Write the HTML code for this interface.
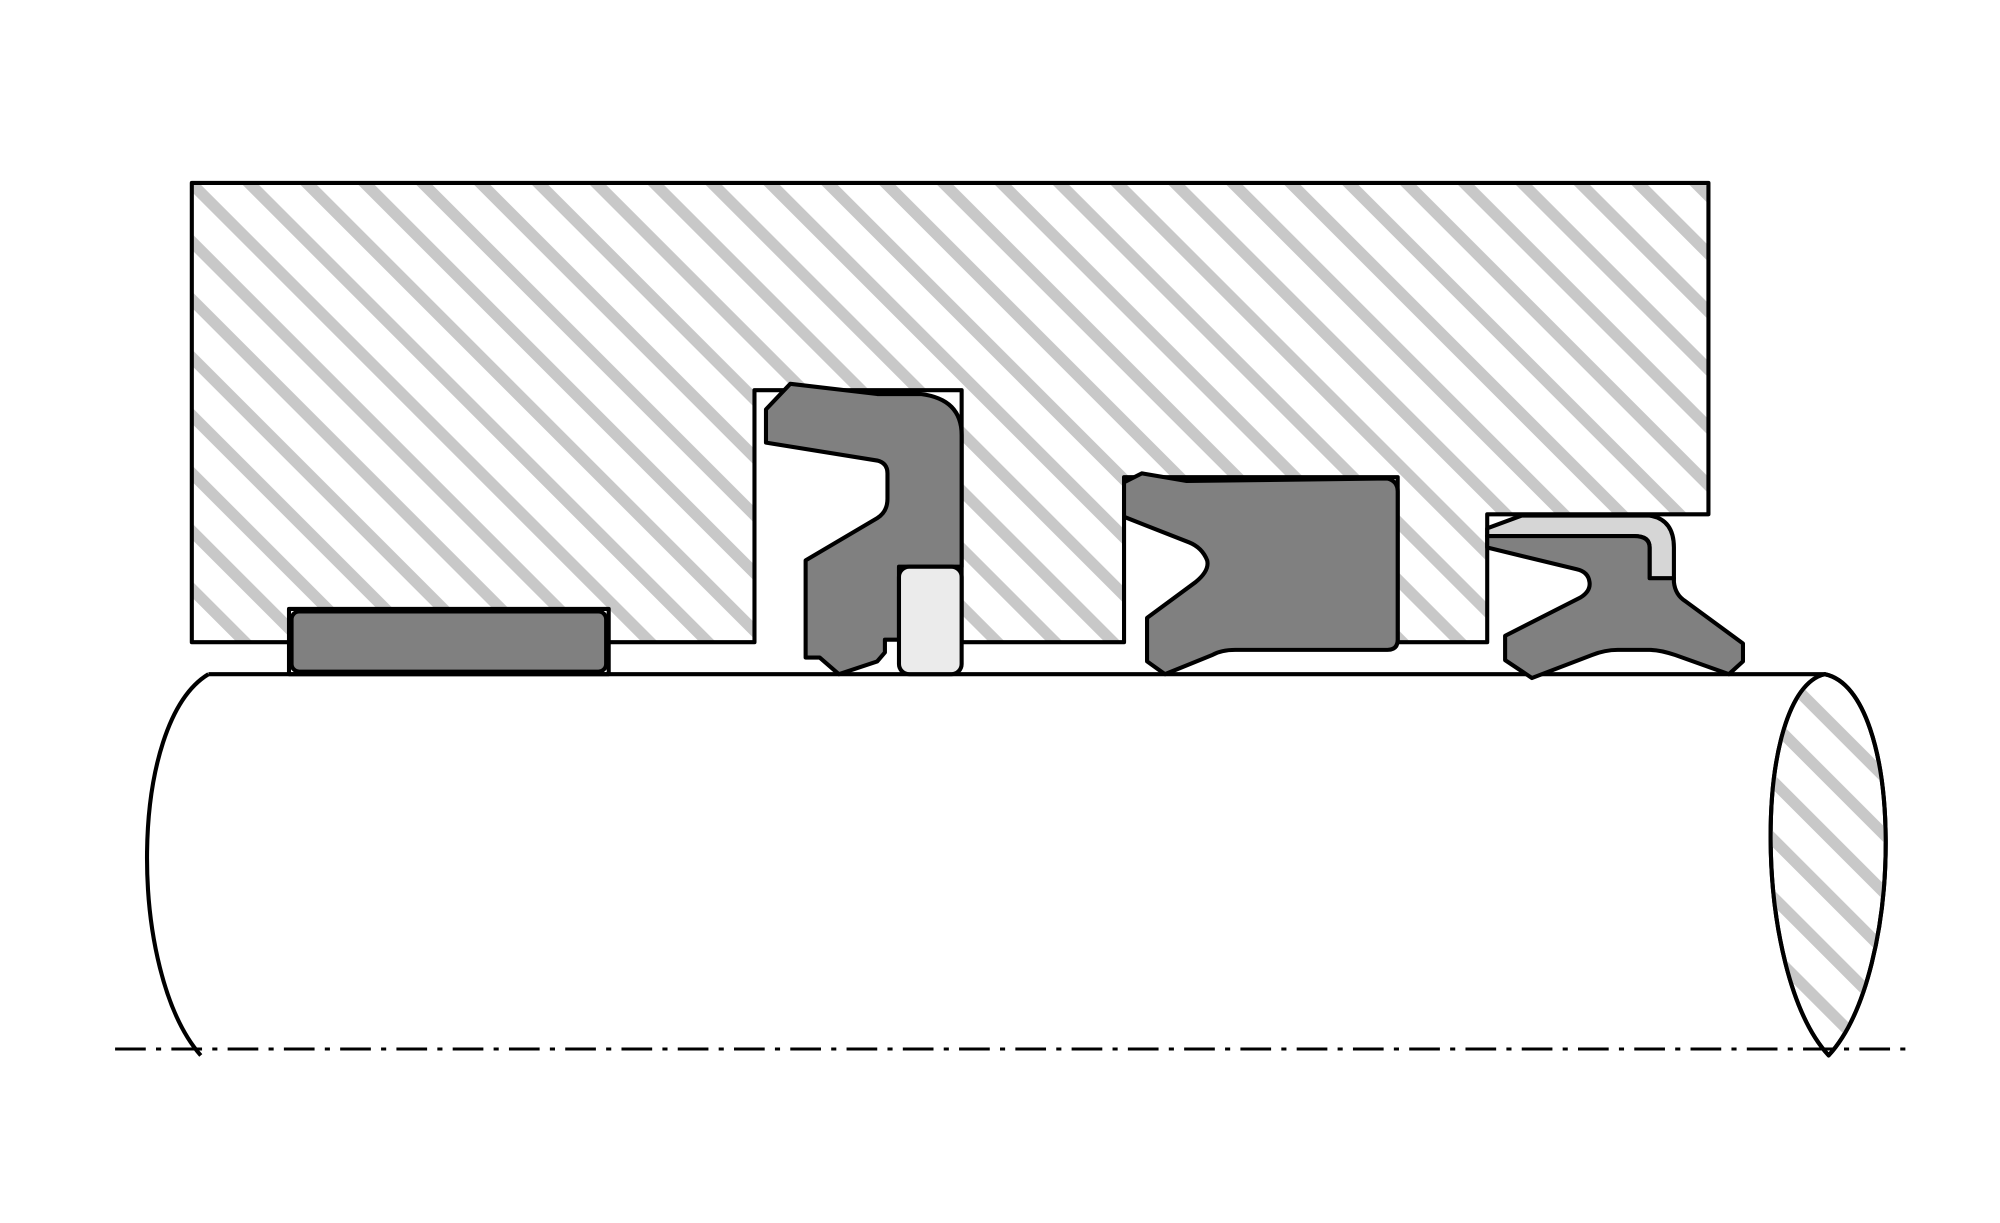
<!DOCTYPE html>
<html><head><meta charset="utf-8"><style>
html,body{margin:0;padding:0;background:#fff;}
svg{display:block;width:2000px;height:1223px;}
</style></head><body>
<svg viewBox="0 0 1564 956" preserveAspectRatio="none" xmlns="http://www.w3.org/2000/svg">
<defs>
<pattern id="h" patternUnits="userSpaceOnUse" width="32" height="32" patternTransform="rotate(-45)">
<rect x="0" y="0" width="9" height="32" fill="#c8c8c8"/>
</pattern>
<clipPath id="ell"><path d="M1427,527 C1370,540 1370,760 1430,825 C1490,760 1490,540 1427,527 Z"/></clipPath>
</defs>
<g stroke="#000" stroke-width="3.2" stroke-linejoin="round">
<path d="M150,143 L1336,143 L1336,402 L1163,402 L1163,502 L1093,502 L1093,373 L879,373 L879,502 L752,502 L752,305 L590,305 L590,502 L150,502 Z" fill="url(#h)"/>
<rect x="226" y="476" width="250" height="51" fill="#fff"/>
<rect x="228" y="478" width="246" height="47" rx="6" fill="#808080"/>
<path d="M163,527 L1427,527" fill="none"/>
<path d="M163,527 C100,565 100,760 157,825" fill="none"/>
<path d="M1427,527 C1370,540 1370,760 1430,825 C1490,760 1490,540 1427,527 Z" fill="#fff"/>
<rect x="1360" y="520" width="140" height="320" fill="url(#h)" stroke="none" clip-path="url(#ell)"/>
<path d="M1427,527 C1370,540 1370,760 1430,825 C1490,760 1490,540 1427,527 Z" fill="none"/>
<path d="M599,320 L618,300 L686,308 L720,308 Q752,312 752,340 L752,443 L703,443 L703,500 L692,500 L692,510 L686,517 L656,527 L641,514 L630,514 L630,438 L686,405 Q694,400 694,390 L694,370 Q694,362 686,360 L599,346 Z" fill="#808080"/>
<rect x="703" y="443" width="49" height="84" rx="8" fill="#ebebeb"/>
<path d="M879,377 L893,370 L928,376 L1085,374 Q1093,376 1093,384 L1093,500 Q1093,508 1085,508 L966,508 Q955,508 948,512 L911,527 L897,517 L897,483 L935,455 Q946,446 944,438 Q940,428 930,424 L879,404 Z" fill="#808080"/>
<path d="M1163,413 L1190,403 L1290,403 Q1309,406 1309,428 L1309,452 L1290,452 L1290,428 Q1290,419 1278,419 L1163,419 Z" fill="#d6d6d6"/>
<path d="M1163,419 L1278,419 Q1290,419 1290,428 L1290,452 L1309,452 L1309,455 Q1310,465 1318,470 L1363,503 L1363,517 L1352,527 L1310,512 Q1298,508 1290,508 L1265,508 Q1255,508 1245,512 L1198,530 L1177,516 L1177,497 L1236,467 Q1244,462 1243,455 Q1242,447 1233,445 L1163,428 Z" fill="#808080"/>
</g>
<line x1="90" y1="820" x2="1495" y2="820" stroke="#000" stroke-width="2.4" stroke-dasharray="24,8,4,8"/>
</svg>
</body></html>
